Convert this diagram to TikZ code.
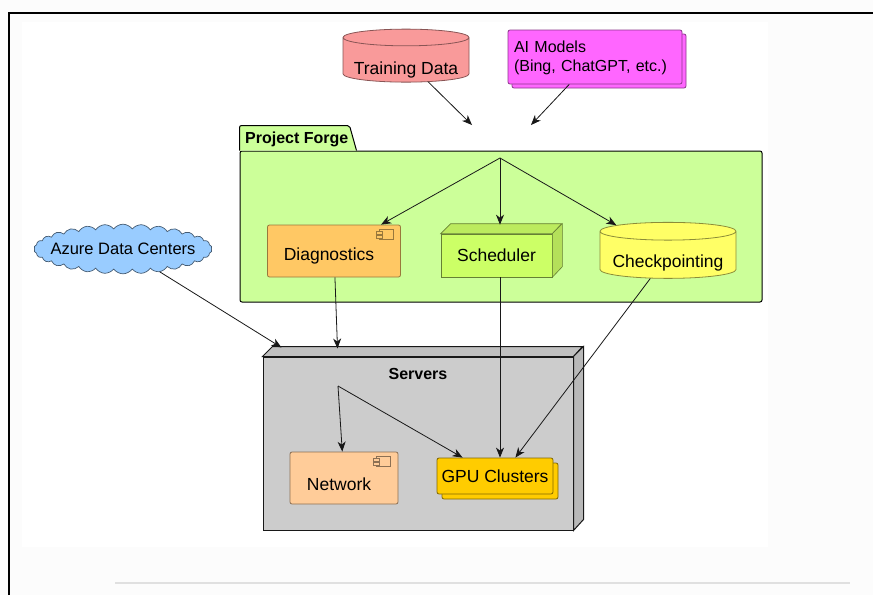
\documentclass[tikz,border=0pt]{standalone}
\usepackage{fontspec}
\setmainfont{Liberation Sans}
\usetikzlibrary{positioning}
\usetikzlibrary{arrows.meta,shapes.geometric,shapes.symbols,shadows}

\definecolor{pageGray}{HTML}{FCFCFC}
\definecolor{lineGray}{HTML}{181818}
\definecolor{tdRed}{HTML}{F99A9A}
\definecolor{aiPink}{HTML}{FF66FF}
\definecolor{forgeGreen}{HTML}{CCFF99}
\definecolor{diagOrange}{HTML}{FFC864}
\definecolor{schedGreen}{HTML}{CCFF66}
\definecolor{ckptYellow}{HTML}{FFFF66}
\definecolor{azureBlue}{HTML}{99CCFF}
\definecolor{srvGray}{HTML}{CCCCCC}
\definecolor{netPeach}{HTML}{FFCC99}
\definecolor{gpuGold}{HTML}{FFCC00}

\begin{document}
\begin{tikzpicture}[x=1pt,y=-1pt,font=\fontsize{17.5}{22}\selectfont,>={Stealth[length=10pt,width=8pt,inset=3pt]}]
\tikzstyle{conn}=[->, line width=0.8pt, draw=lineGray]
\tikzstyle{box}=[rectangle, rounded corners=2pt, inner sep=0pt, line width=0.8pt]

% \draw[help lines] (0,0) grid (873,595);

\useasboundingbox (0,0) rectangle (873,595);
\fill[pageGray] (0,0) rectangle (873,595);
\fill[white] (22,22) rectangle (768,547);
\draw[line width=1.5pt] (9,595) -- (9,13) -- (873,13);
\draw[line width=1.2pt, draw=black!12] (115,583) -- (850,583);

% sources on top
\node[cylinder, shape border rotate=90, aspect=0.16, minimum width=126pt, minimum height=53pt, inner sep=0pt, fill=tdRed, draw=tdRed!55!black, line width=0.8pt] (trainData) at (406,60) {\raisebox{-10pt}[\height][\depth]{Training Data}};
\node[box, fill=aiPink, draw=aiPink!55!black, minimum width=174pt, minimum height=54pt, text width=162pt, align=left, font=\fontsize{16}{21}\selectfont, copy shadow={shadow xshift=4pt, shadow yshift=-4pt}] (aiModels) at (595,57) {\raisebox{-2pt}[\height][\depth]{AI Models}\\(Bing, ChatGPT, etc.)};

% project forge package
\node[box, fill=forgeGreen, draw=black, line width=1pt, minimum width=522pt, minimum height=151pt] (forge) at (501,226.5) {};
\draw[fill=forgeGreen, line width=1pt, rounded corners=2pt] (forge.north west) -- ++(0,-25) -- ++(110,0) -- ++(7,25);
\node[font=\fontsize{16}{18}\selectfont\bfseries, anchor=west, inner sep=0pt] (forgeTab) at (245,139) {Project Forge};

\coordinate (forgeInA) at (472,125);
\coordinate (forgeInB) at (531,125);
\coordinate (forgeOut) at (500,158);

\node[box, fill=diagOrange, draw=diagOrange!60!black, minimum width=133pt, minimum height=52pt] (diag) at (334,251) {\raisebox{-5pt}[\height][\depth]{Diagnostics\hspace{10pt}}};
\draw[fill=diagOrange, draw=diagOrange!60!black, line width=0.6pt] ([xshift=-22pt,yshift=-5pt]diag.north east) rectangle ++(14,10);
\draw[fill=diagOrange, draw=diagOrange!60!black, line width=0.6pt] ([xshift=-25pt,yshift=-7pt]diag.north east) rectangle ++(6,2.5);
\draw[fill=diagOrange, draw=diagOrange!60!black, line width=0.6pt] ([xshift=-25pt,yshift=-11pt]diag.north east) rectangle ++(6,2.5);

\node[rectangle, inner sep=0pt, fill=schedGreen, draw=schedGreen!50!black, line width=0.6pt, minimum width=111pt, minimum height=43pt] (sched) at (496.5,255.5) {Scheduler};
\draw[fill=schedGreen!92!black, draw=schedGreen!50!black, line width=0.6pt] (sched.north west) -- ++(10,-10) -- ++(111,0) -- (sched.north east) -- cycle;
\draw[fill=schedGreen!88!black, draw=schedGreen!50!black, line width=0.6pt] (sched.north east) -- ++(10,-10) -- ++(0,43) -- (sched.south east) -- cycle;

\node[cylinder, shape border rotate=90, aspect=0.16, minimum width=136pt, minimum height=56pt, inner sep=0pt, fill=ckptYellow, draw=ckptYellow!55!black, line width=0.8pt] (ckpt) at (668,255) {\raisebox{-8pt}[\height][\depth]{Checkpointing}};

% azure
\node[cloud, cloud puffs=30, cloud puff arc=110, aspect=4.3, minimum width=178pt, minimum height=44pt, inner xsep=-11pt, inner ysep=2pt, fill=azureBlue, draw=azureBlue!45!black, line width=0.7pt, font=\fontsize{16.5}{20}\selectfont] (azure) at (123,249) {Azure Data Centers};

% servers node
\node[rectangle, inner sep=0pt, fill=srvGray, draw=lineGray, line width=1pt, minimum width=310pt, minimum height=173pt] (servers) at (418,443.5) {};
\draw[fill=srvGray!94!black, draw=lineGray, line width=1pt] (servers.north west) -- ++(10,-10) -- ++(310,0) -- (servers.north east) -- cycle;
\draw[fill=srvGray!90!black, draw=lineGray, line width=1pt] (servers.north east) -- ++(10,-10) -- ++(0,173) -- (servers.south east) -- cycle;
\node[font=\fontsize{16}{18}\selectfont\bfseries, below=8pt of servers.north] (srvTitle) {Servers};

\coordinate (srvOut) at (338,386);

\node[box, fill=netPeach, draw=netPeach!55!black, minimum width=108pt, minimum height=52pt] (net) at (344,478) {\raisebox{-6pt}[\height][\depth]{Network\hspace{10pt}}};
\draw[fill=netPeach, draw=netPeach!55!black, line width=0.6pt] ([xshift=-22pt,yshift=-5pt]net.north east) rectangle ++(14,10);
\draw[fill=netPeach, draw=netPeach!55!black, line width=0.6pt] ([xshift=-25pt,yshift=-7pt]net.north east) rectangle ++(6,2.5);
\draw[fill=netPeach, draw=netPeach!55!black, line width=0.6pt] ([xshift=-25pt,yshift=-11pt]net.north east) rectangle ++(6,2.5);

\node[box, fill=gpuGold, draw=gpuGold!50!black, minimum width=116pt, minimum height=36pt, copy shadow={shadow xshift=5pt, shadow yshift=-5pt}] (gpu) at (495,476) {GPU Clusters};

% connectors
\draw[conn] (trainData) -- (forgeInA);
\draw[conn] (aiModels) -- (forgeInB);

\draw[conn] (forgeOut) -- (diag);
\draw[conn] (forgeOut) -- ([yshift=9pt]sched.north -| forgeOut);
\draw[conn] (forgeOut) -- (ckpt);

\draw[conn] (azure) -- ([xshift=19pt,yshift=9pt]servers.north west);
\draw[conn] (diag) -- ([xshift=75pt,yshift=8pt]servers.north west);
\draw[conn] (sched.south -| forgeOut) -- (gpu.north -| forgeOut);
\draw[conn] (ckpt) -- ([xshift=-38pt]gpu.north east);

\draw[conn] (srvOut) -- (net);
\draw[conn] (srvOut) -- ([xshift=26pt]gpu.north west);

\end{tikzpicture}
\end{document}
